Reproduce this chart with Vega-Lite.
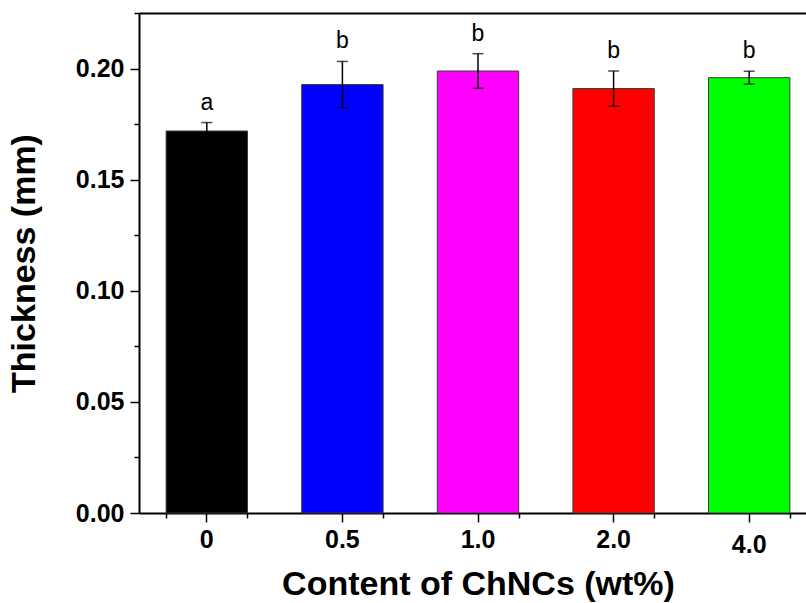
{
  "$schema": "https://vega.github.io/schema/vega-lite/v6.json",
  "autosize": "none",
  "width": 678,
  "height": 500,
  "padding": {"left": 139, "top": 13, "right": -11, "bottom": 90},
  "background": "white",
  "config": {
    "view": {"stroke": null},
    "font": "Liberation Sans",
    "axis": {
      "domainColor": "black",
      "domainWidth": 2,
      "tickColor": "black",
      "tickWidth": 1.5,
      "labelColor": "black",
      "titleColor": "black",
      "grid": false,
      "labelFont": "Liberation Sans",
      "titleFont": "Liberation Sans"
    }
  },
  "data": {
    "values": [
      {"content": "0", "mean": 0.1719, "sd": 0.0038, "letter": "a"},
      {"content": "0.5", "mean": 0.1928, "sd": 0.0104, "letter": "b"},
      {"content": "1.0", "mean": 0.1989, "sd": 0.0078, "letter": "b"},
      {"content": "2.0", "mean": 0.1910, "sd": 0.0079, "letter": "b"},
      {"content": "4.0", "mean": 0.1959, "sd": 0.0029, "letter": "b"}
    ]
  },
  "transform": [
    {"calculate": "datum.mean - datum.sd", "as": "lo"},
    {"calculate": "datum.mean + datum.sd", "as": "hi"}
  ],
  "resolve": {"axis": {"x": "independent", "y": "independent"}, "scale": {"x": "shared", "y": "shared"}},
  "layer": [
    {
      "mark": {"type": "bar", "stroke": "#3a3a3a", "strokeWidth": 1},
      "encoding": {
        "x": {
          "field": "content",
          "type": "nominal",
          "sort": null,
          "scale": {"paddingInner": 0.4, "paddingOuter": 0.2},
          "axis": {
            "orient": "bottom",
            "title": "Content of ChNCs (wt%)",
            "labelAngle": 0,
            "labelFontSize": 25,
            "labelFontWeight": "bold",
            "labelPadding": {"condition": {"test": "datum.label == '4.0'", "value": 10}, "value": 5},
            "tickSize": 9,
            "titleFontSize": 34,
            "titleFontWeight": "bold",
            "titlePadding": 10
          }
        },
        "y": {
          "field": "mean",
          "type": "quantitative",
          "scale": {"domain": [0, 0.225], "nice": false},
          "axis": {
            "orient": "left",
            "title": "Thickness (mm)",
            "values": [0, 0.025, 0.05, 0.075, 0.1, 0.125, 0.15, 0.175, 0.2, 0.225],
            "labelExpr": "round(datum.value*1000) % 50 == 0 ? format(datum.value, '.2f') : ''",
            "labelOverlap": false,
            "tickSize": {"condition": {"test": "round(datum.value*1000) % 50 == 0", "value": 9}, "value": 5},
            "labelFontSize": 25,
            "labelFontWeight": "bold",
            "labelPadding": 6,
            "titleFontSize": 34,
            "titleFontWeight": "bold",
            "titlePadding": 34
          }
        },
        "color": {
          "field": "content",
          "type": "nominal",
          "scale": {
            "domain": ["0", "0.5", "1.0", "2.0", "4.0"],
            "range": ["#000000", "#0000ff", "#ff00ff", "#ff0000", "#00ff00"]
          },
          "legend": null
        }
      }
    },
    {
      "mark": {"type": "rule", "color": "black", "strokeWidth": 1.5},
      "encoding": {
        "x": {
          "field": "content",
          "type": "nominal",
          "sort": null,
          "axis": {
            "orient": "bottom",
            "tickBand": "extent",
            "labels": false,
            "domain": false,
            "tickSize": 5,
            "title": null
          }
        },
        "y": {"field": "lo", "type": "quantitative", "axis": null},
        "y2": {"field": "hi"}
      }
    },
    {
      "mark": {"type": "tick", "color": "black", "size": 11, "thickness": 1.5},
      "encoding": {
        "x": {"field": "content", "type": "nominal", "sort": null, "axis": null},
        "y": {"field": "lo", "type": "quantitative", "axis": null}
      }
    },
    {
      "mark": {"type": "tick", "color": "black", "size": 11, "thickness": 1.5},
      "encoding": {
        "x": {"field": "content", "type": "nominal", "sort": null, "axis": null},
        "y": {"field": "hi", "type": "quantitative", "axis": null}
      }
    },
    {
      "mark": {
        "type": "text",
        "baseline": "bottom",
        "dy": -8,
        "fontSize": 23,
        "font": "Liberation Sans",
        "color": "black"
      },
      "encoding": {
        "x": {
          "field": "content",
          "type": "nominal",
          "sort": null,
          "axis": {
            "orient": "top",
            "ticks": false,
            "labels": false,
            "domain": true,
            "title": null
          }
        },
        "y": {"field": "hi", "type": "quantitative", "axis": null},
        "text": {"field": "letter"}
      }
    }
  ]
}
